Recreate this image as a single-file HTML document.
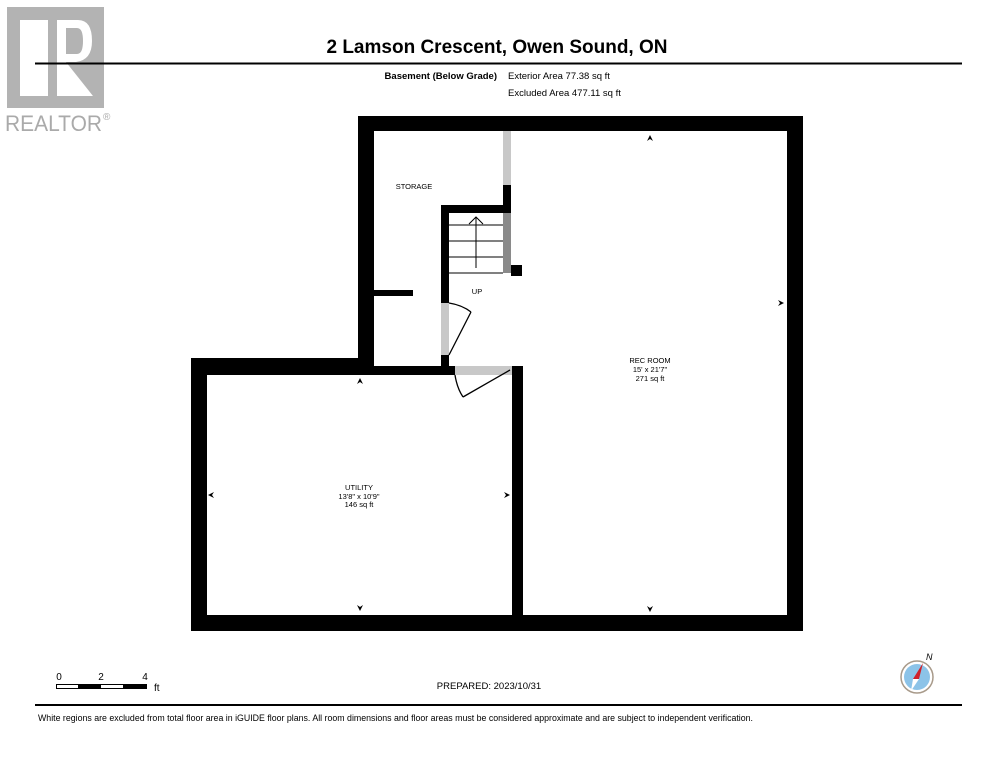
<!DOCTYPE html>
<html><head><meta charset="utf-8"><style>
body{margin:0;background:#fff;}
svg{display:block;}
text{font-family:"Liberation Sans",Arial,sans-serif;fill:#000;}
</style></head><body>
<svg width="994" height="768" viewBox="0 0 994 768" xmlns="http://www.w3.org/2000/svg">
<rect width="994" height="768" fill="#fff"/>
<!-- logo -->
<rect x="7" y="7" width="97" height="101" fill="#b3b3b3"/>
<rect x="20" y="20" width="28" height="76" fill="#fff"/>
<path d="M57,20 H78 Q92,20 92,41 Q92,60 76,62 L93,96 H57 Z" fill="#fff"/>
<path d="M66,28 H77 Q83,28 83,41 Q83,54 77,54 H66 Z" fill="#b3b3b3"/>
<path d="M66,62 L93,96 H95 L95,62 Z" fill="#b3b3b3"/>
<text x="5" y="131" font-size="22" style="fill:#aaa" textLength="97" lengthAdjust="spacingAndGlyphs">REALTOR</text>
<text x="103" y="120" font-size="10" style="fill:#aaa">®</text>
<!-- header line -->
<line x1="35" y1="63.5" x2="962" y2="63.5" stroke="#000" stroke-width="2"/>
<!-- title -->
<text x="497" y="53" font-size="19" font-weight="bold" text-anchor="middle">2 Lamson Crescent, Owen Sound, ON</text>
<text x="497" y="79" font-size="9.5" font-weight="bold" text-anchor="end">Basement (Below Grade)</text>
<text x="508" y="79" font-size="9.5">Exterior Area 77.38 sq ft</text>
<text x="508" y="96" font-size="9.5">Excluded Area 477.11 sq ft</text>
<!-- walls -->
<g fill="#000">
<rect x="358" y="116" width="445" height="15"/>
<rect x="787" y="116" width="16" height="515"/>
<rect x="191" y="615" width="612" height="16"/>
<rect x="191" y="358" width="16" height="273"/>
<rect x="191" y="358" width="183" height="17"/>
<rect x="358" y="116" width="16" height="259"/>
<rect x="372" y="366" width="83" height="9"/>
<rect x="512" y="366" width="11" height="265"/>
<rect x="374" y="290" width="39" height="6"/>
<rect x="441" y="205" width="70" height="8"/>
<rect x="441" y="205" width="8" height="98"/>
<rect x="441" y="355" width="8" height="17"/>
<rect x="503" y="185" width="8" height="28"/>
<rect x="511" y="265" width="11" height="11"/>
</g>
<rect x="503" y="131" width="8" height="54" fill="#c8c8c8"/>
<rect x="503" y="213" width="8" height="60" fill="#8a8a8a"/>
<rect x="441" y="303" width="8" height="52" fill="#c8c8c8"/>
<rect x="455" y="366" width="57" height="9" fill="#c8c8c8"/>
<!-- stairs -->
<g stroke="#000" stroke-width="1">
<line x1="449" y1="225" x2="503" y2="225"/>
<line x1="449" y1="241" x2="503" y2="241"/>
<line x1="449" y1="257" x2="503" y2="257"/>
<line x1="449" y1="273" x2="503" y2="273"/>
<line x1="476" y1="268" x2="476" y2="217"/>
<polyline points="469,224 476,217 483,224" fill="none"/>
</g>
<!-- doors -->
<g stroke="#000" stroke-width="1.3" fill="none">
<line x1="449" y1="355" x2="471" y2="312"/>
<path d="M449,303 Q462,305 471,312"/>
<line x1="510" y1="370" x2="463" y2="397"/>
<path d="M455,375 Q457,388 463,397"/>
</g>
<!-- markers -->
<g fill="#000">
<path d="M650,135 l-3,6 l3,-2 l3,2z"/>
<path d="M784,303 l-6,-3 l2,3 l-2,3z"/>
<path d="M650,612 l-3,-6 l3,2 l3,-2z"/>
<path d="M360,378 l-3,6 l3,-2 l3,2z"/>
<path d="M360,611 l-3,-6 l3,2 l3,-2z"/>
<path d="M208,495 l6,-3 l-2,3 l2,3z"/>
<path d="M510,495 l-6,-3 l2,3 l-2,3z"/>
</g>
<!-- labels -->
<g font-size="7.5" text-anchor="middle">
<text x="414" y="189">STORAGE</text>
<text x="477" y="294">UP</text>
<text x="650" y="363">REC ROOM</text>
<text x="650" y="372">15' x 21'7"</text>
<text x="650" y="381">271 sq ft</text>
<text x="359" y="490">UTILITY</text>
<text x="359" y="499">13'8" x 10'9"</text>
<text x="359" y="507">146 sq ft</text>
</g>
<!-- scale -->
<text x="59" y="680" font-size="10" text-anchor="middle">0</text>
<text x="101" y="680" font-size="10" text-anchor="middle">2</text>
<text x="145" y="680" font-size="10" text-anchor="middle">4</text>
<text x="154" y="691" font-size="10">ft</text>
<rect x="56.5" y="684.5" width="90" height="4" fill="#fff" stroke="#000"/>
<rect x="78" y="684" width="23" height="5" fill="#000"/>
<rect x="123" y="684" width="23" height="5" fill="#000"/>
<text x="489" y="689" font-size="9.5" text-anchor="middle">PREPARED: 2023/10/31</text>
<!-- compass -->
<circle cx="917" cy="677" r="16" fill="#fff" stroke="#a89a8a" stroke-width="1.5"/>
<circle cx="917" cy="677" r="13" fill="#8cc3e8"/>
<path d="M923,663 L913,679 L919,679 Z" fill="#d0202a"/>
<path d="M913,679 L919,679 L911,691 Z" fill="#fff"/>
<text x="926" y="660" font-size="9" font-style="italic">N</text>
<!-- footer -->
<line x1="35" y1="705" x2="962" y2="705" stroke="#000" stroke-width="2"/>
<text x="38" y="721" font-size="8.8" textLength="715" lengthAdjust="spacingAndGlyphs">White regions are excluded from total floor area in iGUIDE floor plans. All room dimensions and floor areas must be considered approximate and are subject to independent verification.</text>
</svg>
</body></html>
